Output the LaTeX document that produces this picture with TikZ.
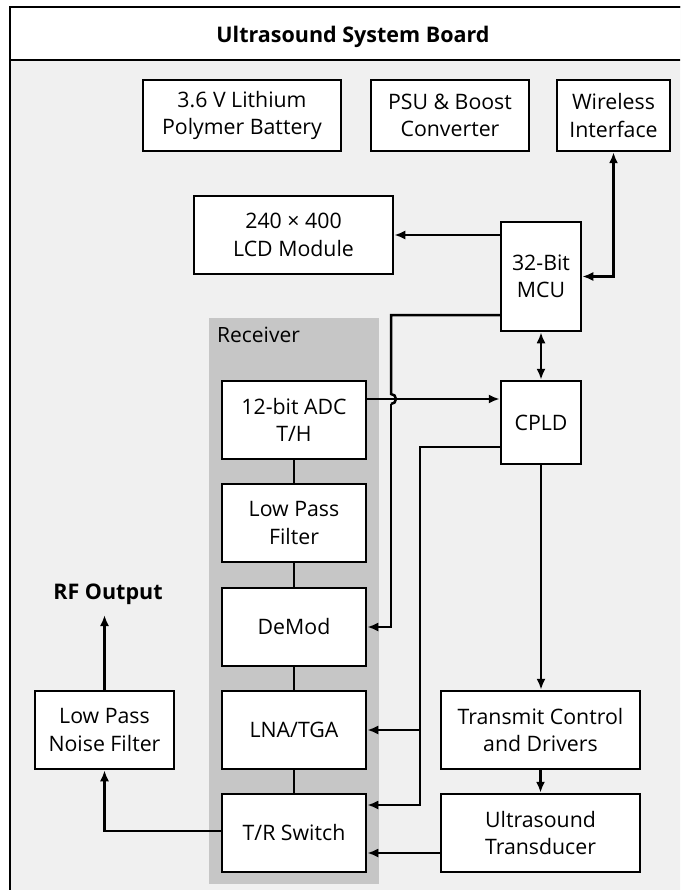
\documentclass[tikz,border=0pt]{standalone}
\usepackage{fontspec}
\setmainfont{Open Sans}
\usetikzlibrary{arrows.meta}
\definecolor{bggray}{HTML}{F0F0F0}
\definecolor{rxgray}{HTML}{C6C6C6}
\begin{document}
\begin{tikzpicture}[x=1pt,y=-1pt,
  blk/.style={draw=black,line width=2.5pt,fill=white,align=center,inner sep=0pt,
    font=\fontsize{21.3}{27.5}\selectfont},
  wire/.style={line width=2.5pt},
  arr/.style={line width=2.5pt,-{Latex[length=11pt,width=9pt]}},
  arrb/.style={line width=2.5pt,{Latex[length=11pt,width=9pt]}-{Latex[length=11pt,width=9pt]}}]
\useasboundingbox (0,0) rectangle (680,890);
\clip (0,0) rectangle (680,890);
% frame
\fill[white] (0,0) rectangle (680,890);
\draw[line width=2.5pt,fill=bggray] (10,7) rectangle (700,900);
\draw[line width=2.5pt,fill=white] (10,7) rectangle (700,60);
\node[font=\fontsize{21.5}{26}\selectfont\bfseries] (title) at (353,37) {Ultrasound System Board};
% receiver group
\fill[rxgray] (209,318) rectangle (379,884);
\node[anchor=west,font=\fontsize{21}{26}\selectfont,inner sep=0pt] (rxlabel) at (217,335) {Receiver};
% blocks
\node[blk,minimum width=198pt,minimum height=71pt] (bat) at (242,115.5) {3.6 V Lithium\\Polymer Battery};
\node[blk,minimum width=158pt,minimum height=71pt] (psu) at (450,115.5) {PSU \& Boost\\Converter};
\node[blk,minimum width=113pt,minimum height=71pt] (wl) at (613.5,115.5) {Wireless\\Interface};
\node[blk,minimum width=199pt,minimum height=78pt] (lcd) at (293.5,235) {240 × 400\\LCD Module};
\node[blk,minimum width=80pt,minimum height=109pt] (mcu) at (541,276.5) {32-Bit\\MCU};
\node[blk,minimum width=80pt,minimum height=83pt] (cpld) at (541,422.5) {CPLD};
\node[blk,minimum width=144pt,minimum height=78pt] (adc) at (294,420) {12-bit ADC\\T/H};
\node[blk,minimum width=144pt,minimum height=78pt] (lpf) at (294,523) {Low Pass\\Filter};
\node[blk,minimum width=144pt,minimum height=78pt] (demod) at (294,627) {DeMod};
\node[blk,minimum width=144pt,minimum height=78pt] (lna) at (294,730) {LNA/TGA};
\node[blk,minimum width=144pt,minimum height=78pt] (tr) at (294,833) {T/R Switch};
\node[blk,minimum width=139pt,minimum height=78pt] (lpnf) at (104.5,730) {Low Pass\\Noise Filter};
\node[blk,minimum width=199pt,minimum height=78pt] (tx) at (540.5,730) {Transmit Control\\and Drivers};
\node[blk,minimum width=199pt,minimum height=78pt] (xd) at (540.5,833) {Ultrasound\\Transducer};
\node[font=\fontsize{21.5}{26}\selectfont\bfseries,inner sep=0pt] (rf) at (108,594) {RF Output};
% receiver chain
\draw[wire] (adc.south) -- (lpf.north);
\draw[wire] (lpf.south) -- (demod.north);
\draw[wire] (demod.south) -- (lna.north);
\draw[wire] (lna.south) -- (tr.north);
% connectors
\draw[arr] (lcd.east -| mcu.west) -- (lcd.east);
\draw[arrb] (wl.south) |- (mcu.east);
\draw[arrb] (mcu.south) -- (cpld.north);
\coordinate (adcout) at ([yshift=21pt]adc.east);
\draw[arr] (adcout) -- (adcout -| cpld.west);
% MCU to DeMod with hop
\coordinate (hopx) at (391,0);
\coordinate (mcuout) at ([yshift=-38.5pt]mcu.west);
\draw[wire] (mcuout) -| (hopx |- 0,394) arc[start angle=90,end angle=-90,radius=5pt];
\draw[arr] (hopx |- 0,404) |- (demod.east);
% CPLD to LNA and T/R
\coordinate (bus) at (420,0);
\coordinate (cpldout) at ([yshift=-24.5pt]cpld.west);
\coordinate (trin) at ([yshift=28pt]tr.east);
\draw[arr] (cpldout) -| (bus |- trin) -- (trin);
\draw[arr] (bus |- lna.east) -- (lna.east);
% transmit path
\draw[arr] (cpld.south) -- (cpld.south |- tx.north);
\draw[arr] (tx.south) -- (xd.north);
\coordinate (xdout) at ([yshift=-20pt]xd.west);
\draw[arr] (xdout) -- (xdout -| tr.east);
% output path
\coordinate (rfin) at (104,615);
\draw[arr] ([yshift=2pt]tr.west) -| (lpnf.south);
\draw[arr] (lpnf.north) -- (lpnf.north |- rfin);
\end{tikzpicture}
\end{document}
